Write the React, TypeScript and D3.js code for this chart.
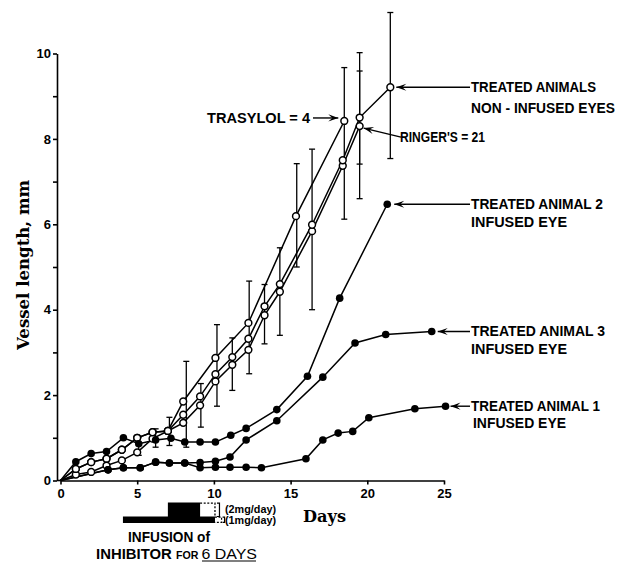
import React, { useEffect, useRef } from 'react';
import * as d3 from 'd3';

// Vessel length (mm) vs days
const trasylolDays = [0, 1, 2, 3, 4, 5, 6, 7, 8, 10.1, 12.25, 15.35, 18.5];
const trasylolLen = [0, 0.27, 0.43, 0.51, 0.72, 1.0, 1.13, 1.16, 1.85, 2.87, 3.69, 6.19, 8.42];

const ringerDays = [0, 1, 2, 3, 4, 5, 6, 7, 8, 9.1, 10.1, 11.2, 12.25, 13.3, 14.3, 16.4, 18.4, 19.5];
const ringerLen = [0, 0.14, 0.2, 0.35, 0.47, 0.66, 0.98, 1.16, 1.35, 1.76, 2.32, 2.71, 3.06, 3.87, 4.42, 5.84, 7.37, 8.3];

const nonInfusedDays = [0, 1, 2, 3, 4, 5, 6, 7, 8, 9.1, 10.1, 11.2, 12.25, 13.3, 14.3, 16.4, 18.4, 19.5, 21.5];
const nonInfusedLen = [0, 0.27, 0.43, 0.51, 0.72, 1.0, 1.13, 1.16, 1.54, 1.97, 2.49, 2.89, 3.32, 4.08, 4.6, 5.99, 7.5, 8.5, 9.21];

const animal2Days = [0, 1, 2, 3, 4.1, 5.1, 6.2, 7.2, 8.1, 9.1, 10.1, 11.1, 12.1, 14.1, 16.1, 18.2, 21.3];
const animal2Len = [0, 0.44, 0.63, 0.68, 1.0, 0.86, 0.95, 0.99, 0.9, 0.9, 0.9, 1.06, 1.22, 1.66, 2.44, 4.27, 6.47];

const animal3Days = [0, 3.1, 4.1, 5.2, 6.2, 7.1, 8.1, 9.1, 10.1, 11.05, 12.1, 14.1, 17.1, 19.2, 21.2, 24.2];
const animal3Len = [0, 0.25, 0.3, 0.3, 0.43, 0.41, 0.41, 0.42, 0.45, 0.55, 0.95, 1.4, 2.42, 3.22, 3.42, 3.49];

const animal1Days = [0, 3.1, 4.1, 5.2, 6.2, 7.1, 8.1, 9.1, 10.1, 11.05, 12.1, 13.1, 16, 17.1, 18.1, 19.05, 20.1, 23.1, 25.1];
const animal1Len = [0, 0.25, 0.3, 0.3, 0.43, 0.41, 0.41, 0.3, 0.31, 0.31, 0.31, 0.3, 0.51, 0.95, 1.11, 1.15, 1.47, 1.68, 1.74];

// error bars on the open-circle groups
const errDays = [5.1, 6.2, 7.1, 8.2, 9.15, 10.2, 11.2, 12.3, 13.3, 14.3, 15.4, 16.4, 18.5, 19.5, 19.5, 21.5];
const errLow = [0.59, 0.78, 0.82, 0.78, 1.25, 1.74, 2.11, 2.5, 3.2, 3.4, 5.0, 4.0, 6.12, 6.6, 7.41, 7.54];
const errHigh = [1.02, 1.21, 1.48, 2.79, 2.27, 3.65, 3.34, 4.67, 4.59, 5.45, 7.42, 7.76, 9.67, 10.02, 9.59, 10.96];

const yTicks = [0, 1, 2, 3, 4, 5, 6, 7, 8, 9, 10];
const xTicks = [0, 5, 10, 15, 20, 25];

// infusion schedule (days)
const lowDoseSpan = [4.07, 10.07];
const lowDoseDashed = [10.07, 10.5];
const highDoseSpan = [7.0, 9.1];
const highDoseDashed = [9.1, 10.07];

const W = 618;
const H = 563;
const SANS = '"Liberation Sans Narrow", "Liberation Sans", Arial, sans-serif';
const SERIF = '"DejaVu Serif", "Liberation Serif", serif';

function App() {
  const svgRef = useRef<SVGSVGElement | null>(null);

  useEffect(() => {
    if (!svgRef.current) return;
    const svg = d3.select(svgRef.current);
    svg.selectAll('*').remove();

    const x = d3.scaleLinear().domain([0, 25]).range([60.5, 444]);
    const y = d3.scaleLinear().domain([0, 10]).range([480.5, 53.5]);

    const toPts = (days: number[], vals: number[]) => days.map((d, i) => [d, vals[i]] as [number, number]);
    const openSeries = [
      toPts(trasylolDays, trasylolLen),
      toPts(ringerDays, ringerLen),
      toPts(nonInfusedDays, nonInfusedLen),
    ];
    const filledSeries = [
      toPts(animal2Days, animal2Len),
      toPts(animal3Days, animal3Len),
      toPts(animal1Days, animal1Len),
    ];

    const line = d3.line<[number, number]>().x(d => x(d[0])).y(d => y(d[1]));

    // axes
    const yAxis = svg.append('g')
      .attr('transform', 'translate(57,0)')
      .call(
        d3.axisLeft(y)
          .tickValues(yTicks)
          .tickSize(4)
          .tickSizeOuter(0)
          .tickPadding(2)
          .tickFormat(v => (+v % 2 === 0 ? String(v) : ''))
      );
    const xAxis = svg.append('g')
      .attr('transform', 'translate(0,480.5)')
      .call(d3.axisBottom(x).tickValues(xTicks).tickSize(4).tickSizeOuter(0).tickPadding(4));
    svg.append('line')
      .attr('x1', 57).attr('x2', x(0)).attr('y1', 480.5).attr('y2', 480.5)
      .attr('stroke', '#000').attr('stroke-width', 1.6);

    [yAxis, xAxis].forEach(a => {
      a.selectAll('path, line').attr('stroke', '#000').attr('stroke-width', 1.6);
      a.selectAll('text')
        .attr('font-family', SANS)
        .attr('font-weight', 700)
        .attr('font-size', 13)
        .attr('fill', '#000');
    });

    // series lines
    const lines = svg.append('g');
    [...openSeries, ...filledSeries].forEach(s => {
      lines.append('path')
        .datum(s)
        .attr('d', line)
        .attr('fill', 'none')
        .attr('stroke', '#000')
        .attr('stroke-width', 1.5);
    });

    // error bars
    const err = svg.append('g').attr('stroke', '#000').attr('stroke-width', 1.3);
    errDays.forEach((d, i) => {
      const cx = x(d);
      err.append('line').attr('x1', cx).attr('x2', cx).attr('y1', y(errLow[i])).attr('y2', y(errHigh[i]));
      [errLow[i], errHigh[i]].forEach(v => {
        err.append('line').attr('x1', cx - 3).attr('x2', cx + 3).attr('y1', y(v)).attr('y2', y(v));
      });
    });

    // markers
    const marks = svg.append('g');
    openSeries.forEach(s => {
      s.filter(p => p[0] > 0).forEach(p => {
        marks.append('circle')
          .attr('cx', x(p[0])).attr('cy', y(p[1])).attr('r', 3.4)
          .attr('fill', '#fff').attr('stroke', '#000').attr('stroke-width', 1.5);
      });
    });
    filledSeries.forEach(s => {
      s.filter(p => p[0] > 0).forEach(p => {
        marks.append('circle')
          .attr('cx', x(p[0])).attr('cy', y(p[1])).attr('r', 3.8)
          .attr('fill', '#000');
      });
    });

    // arrows + labels
    const ann = svg.append('g');
    const arrow = (x1: number, y1: number, x2: number, y2: number) => {
      ann.append('line')
        .attr('x1', x1).attr('y1', y1).attr('x2', x2).attr('y2', y2)
        .attr('stroke', '#000').attr('stroke-width', 1.4);
      const a = Math.atan2(y2 - y1, x2 - x1);
      const L = 10, w = 3.6;
      const bx = x2 - L * Math.cos(a), by = y2 - L * Math.sin(a);
      const nx = x2 - 0.6 * L * Math.cos(a), ny = y2 - 0.6 * L * Math.sin(a);
      ann.append('path')
        .attr('d', `M${x2},${y2}L${bx + w * Math.sin(a)},${by - w * Math.cos(a)}L${nx},${ny}L${bx - w * Math.sin(a)},${by + w * Math.cos(a)}Z`)
        .attr('fill', '#000');
    };
    const label = (txt: string, tx: number, ty: number, len: number, size = 14) => {
      ann.append('text')
        .attr('x', tx).attr('y', ty)
        .attr('font-family', SANS).attr('font-weight', 700).attr('font-size', size)
        .attr('textLength', len).attr('lengthAdjust', 'spacingAndGlyphs')
        .text(txt);
    };

    const LX = 471;
    const endOf = (days: number[], vals: number[]) => [x(days[days.length - 1]), y(vals[vals.length - 1])];

    const [nx, ny] = endOf(nonInfusedDays, nonInfusedLen);
    arrow(LX - 1, ny, nx + 6, ny);
    label('TREATED ANIMALS', LX, ny + 5, 125);
    label('NON - INFUSED EYES', LX, ny + 26, 144);

    const [a2x, a2y] = endOf(animal2Days, animal2Len);
    arrow(LX - 1, a2y, a2x + 7, a2y);
    label('TREATED ANIMAL 2', LX, a2y + 5, 132);
    label('INFUSED EYE', LX, a2y + 23, 96);

    const [a3x, a3y] = endOf(animal3Days, animal3Len);
    arrow(LX - 1, a3y, a3x + 6, a3y);
    label('TREATED ANIMAL 3', LX, a3y + 5, 134);
    label('INFUSED EYE', LX, a3y + 23, 96);

    const [a1x, a1y] = endOf(animal1Days, animal1Len);
    arrow(LX - 1, a1y, a1x + 5, a1y);
    label('TREATED ANIMAL 1', LX, a1y + 5, 129);
    label('INFUSED EYE', LX + 2, a1y + 22, 93);

    const [tx, ty] = endOf(trasylolDays, trasylolLen);
    label('TRASYLOL = 4', 207, ty + 2, 103);
    arrow(313, ty - 3, tx - 6, ty - 3);

    const [rx, ry] = endOf(ringerDays, ringerLen);
    label("RINGER'S = 21", 400, ry + 16, 85);
    arrow(401, ry + 11, rx + 4, ry + 2);

    // infusion schedule
    const inf = svg.append('g');
    inf.append('rect')
      .attr('x', x(lowDoseSpan[0])).attr('width', x(lowDoseSpan[1]) - x(lowDoseSpan[0]))
      .attr('y', 516.5).attr('height', 6.5).attr('fill', '#000');
    inf.append('rect')
      .attr('x', x(highDoseSpan[0])).attr('width', x(highDoseSpan[1]) - x(highDoseSpan[0]))
      .attr('y', 502.5).attr('height', 14.5).attr('fill', '#000');
    inf.append('path')
      .attr('d', `M${x(highDoseDashed[0])},503.2H${x(highDoseDashed[1])}V516.5`)
      .attr('fill', 'none').attr('stroke', '#000').attr('stroke-width', 1.3).attr('stroke-dasharray', '2,1.6');
    inf.append('path')
      .attr('d', `M${x(lowDoseDashed[0])},517.2H${x(lowDoseDashed[1])}V522.3H${x(lowDoseDashed[0])}`)
      .attr('fill', 'none').attr('stroke', '#000').attr('stroke-width', 1.2).attr('stroke-dasharray', '2,1.6');
    inf.append('path')
      .attr('d', `M${x(highDoseDashed[1]) + 2},503.2H${x(highDoseDashed[1]) + 4.5}V516.5H${x(highDoseDashed[1]) + 2}`)
      .attr('fill', 'none').attr('stroke', '#000').attr('stroke-width', 1.2);
    inf.append('path')
      .attr('d', `M${x(lowDoseDashed[1]) + 1},517.2H${x(lowDoseDashed[1]) + 3}V522.3H${x(lowDoseDashed[1]) + 1}`)
      .attr('fill', 'none').attr('stroke', '#000').attr('stroke-width', 1.2);
    label('(2mg/day)', 225, 512.5, 51, 10);
    label('(1mg/day)', 225, 524, 51, 10);
    label('INFUSION of', 128, 542, 82, 15);
    const inh = ann.append('text')
      .attr('x', 96).attr('y', 559)
      .attr('font-family', SANS).attr('font-weight', 700)
      .attr('textLength', 161).attr('lengthAdjust', 'spacingAndGlyphs');
    inh.append('tspan').attr('font-size', 14).text('INHIBITOR ');
    inh.append('tspan').attr('font-size', 10).text('FOR ');
    inh.append('tspan').attr('font-size', 15).attr('font-weight', 400).text('6 DAYS');
    inf.append('line')
      .attr('x1', 202).attr('x2', 256).attr('y1', 561).attr('y2', 561)
      .attr('stroke', '#000').attr('stroke-width', 1.2);

    // axis titles
    svg.append('text')
      .attr('transform', 'translate(29,265) rotate(-90)')
      .attr('text-anchor', 'middle')
      .attr('font-family', SERIF).attr('font-weight', 700).attr('font-size', 17)
      .attr('textLength', 170).attr('lengthAdjust', 'spacingAndGlyphs')
      .text('Vessel length, mm');
    svg.append('text')
      .attr('x', 303).attr('y', 522)
      .attr('font-family', SERIF).attr('font-weight', 700).attr('font-size', 17)
      .attr('textLength', 43).attr('lengthAdjust', 'spacingAndGlyphs')
      .text('Days');
  }, []);

  return (
    <svg
      ref={svgRef}
      width={W}
      height={H}
      viewBox={`0 0 ${W} ${H}`}
      style={{ position: 'absolute', left: 0, top: 0, background: '#fff' }}
    />
  );
}

export default App;
